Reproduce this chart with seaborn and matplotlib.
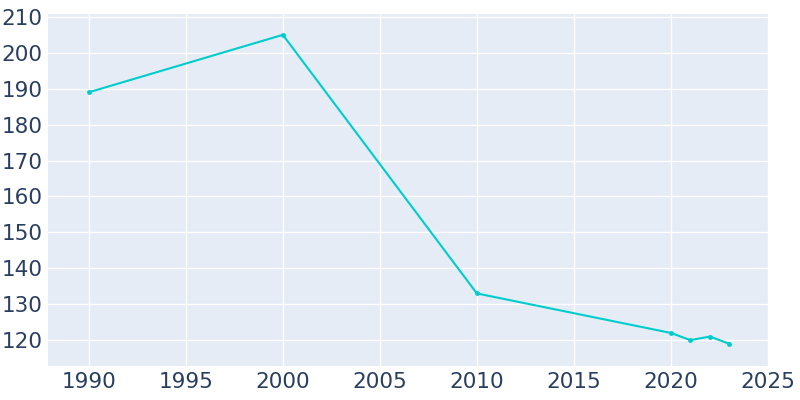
import matplotlib
matplotlib.use("Agg")
import matplotlib.pyplot as plt
import seaborn as sns
import pandas as pd

years = [1990, 2000, 2010, 2020, 2021, 2022, 2023]
population = [189, 205, 133, 122, 120, 121, 119]
xticks = [1990, 1995, 2000, 2005, 2010, 2015, 2020, 2025]
yticks = [120, 130, 140, 150, 160, 170, 180, 190, 200, 210]

df = pd.DataFrame({"year": years, "population": population})

sns.set_style("darkgrid", {"axes.facecolor": "#e5ecf6", "grid.color": "white"})
fig = plt.figure(figsize=(8, 4), dpi=100)
ax = fig.add_axes([0.06, 0.085, 0.90, 0.88])
sns.lineplot(data=df, x="year", y="population", ax=ax, color="#00cccc",
             marker="o", markersize=3.5, markeredgewidth=0, linewidth=1.5)
ax.set_xlim(1987.9, 2025)
ax.set_ylim(112.8, 210.8)
ax.set_xticks(xticks)
ax.set_yticks(yticks)
ax.set_xlabel("")
ax.set_ylabel("")
ax.tick_params(labelsize=15.5, colors="#2a3f5f", length=0, pad=4)
for s in ax.spines.values():
    s.set_visible(False)
ax.grid(True, color="white", linewidth=1)
fig.savefig("out.png")
